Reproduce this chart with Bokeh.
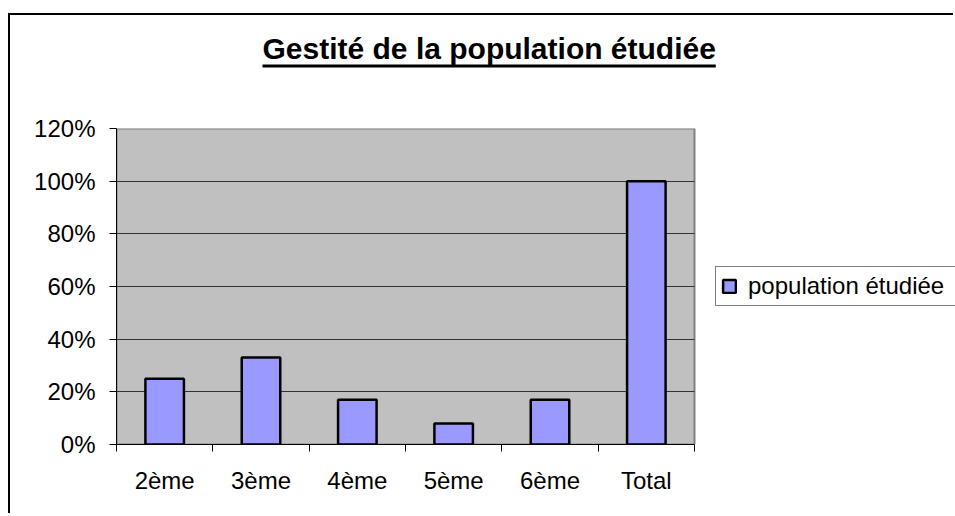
from bokeh.plotting import figure
from bokeh.models import (ColumnDataSource, FixedTicker, NumeralTickFormatter, Range1d,
                          Legend, LegendItem, Title)
from bokeh.embed import file_html
from bokeh.resources import INLINE

# ---- data ----
categories = ["2ème", "3ème", "4ème", "5ème", "6ème", "Total"]
values = [0.25, 0.33, 0.17, 0.08, 0.17, 1.00]
series_name = "population étudiée"
title_text = "Gestité de la population étudiée"
y_ticks = [0, 0.2, 0.4, 0.6, 0.8, 1.0, 1.2]

n = len(categories)
positions = [i + 0.5 for i in range(n)]
source = ColumnDataSource(dict(x=positions, top=values, cat=categories))

FONT = "Liberation Sans"
W, H = 945, 500
LEFT, TOP, BOTTOM = 106, 113, 71
PLOT_W = 578                      # width of the grey plotting area
x_end = n * (W - LEFT) / PLOT_W   # frame runs to the right edge (room for legend)

p = figure(width=W, height=H, output_backend="svg", toolbar_location=None,
           x_range=Range1d(0, x_end), y_range=Range1d(y_ticks[0], y_ticks[-1]),
           min_border_left=LEFT, min_border_right=0, min_border_top=TOP,
           min_border_bottom=BOTTOM)
p.styles = {"margin-left": "8px", "margin-top": "13px",
            "border-left": "2px solid black", "border-top": "2px solid black"}

# title text (farthest from frame)
p.title.text = title_text
p.title.text_font = FONT
p.title.text_font_size = "30px"
p.title.text_font_style = "bold"
p.title.text_color = "black"
p.title.align = "left"
p.title.offset = 146
p.title.standoff = 0

# spacer between frame and underline (nearest to frame)
spacer = Title(text=" ", text_font=FONT, text_font_size="1px", standoff=56,
               background_fill_color=None, border_line_color=None)
p.add_layout(spacer, "above")
# underline (thin black box just below the title text)
ul = Title(text=" ", text_font=FONT, text_font_size="1px", align="left", offset=146,
           standoff=0, padding=(0, 453, 1, 1), background_fill_color="black",
           border_line_color=None, vertical_align="top")
p.add_layout(ul, "above")

p.background_fill_color = "white"
p.border_fill_color = "white"
p.outline_line_color = None

# grey plotting area
p.quad(left=[0], right=[n], bottom=[y_ticks[0]], top=[y_ticks[-1]],
       fill_color="#C0C0C0", line_color="#808080", line_width=2, level="image")

r = p.vbar(x="x", top="top", width=0.4, source=source,
           fill_color="#9999FF", line_color="black", line_width=2.5)

xt = FixedTicker(ticks=positions, minor_ticks=list(range(n + 1)))
p.xaxis.ticker = xt
p.xaxis.bounds = (0, n)
p.xaxis.major_label_overrides = {pos: c for pos, c in zip(positions, categories)}
p.xaxis.major_tick_out = 0
p.xaxis.major_tick_in = 0
p.xaxis.minor_tick_out = 7
p.xaxis.minor_tick_in = 0
p.xaxis.minor_tick_line_color = "black"
p.xaxis.axis_line_color = "black"
p.xaxis.major_label_standoff = 15
p.xaxis.major_label_text_font = FONT
p.xaxis.major_label_text_font_size = "24px"
p.xaxis.major_label_text_color = "black"

p.yaxis.ticker = FixedTicker(ticks=y_ticks, minor_ticks=[])
p.yaxis.formatter = NumeralTickFormatter(format="0%")
p.yaxis.major_tick_out = 7
p.yaxis.major_tick_in = 0
p.yaxis.minor_tick_out = 0
p.yaxis.minor_tick_in = 0
p.yaxis.major_tick_line_color = "black"
p.yaxis.axis_line_color = "black"
p.yaxis.major_label_standoff = 14
p.yaxis.major_label_text_font = FONT
p.yaxis.major_label_text_font_size = "24px"
p.yaxis.major_label_text_color = "black"

p.xgrid.grid_line_color = None
grid_ticks = y_ticks[1:-1]
try:
    p.ygrid.ticker = FixedTicker(ticks=grid_ticks)
    p.ygrid.cross_bounds = (0, n)
    p.ygrid.grid_line_color = "#333333"
    p.ygrid.grid_line_width = 1
except Exception:
    p.ygrid.grid_line_color = None
    p.segment(x0=[0] * len(grid_ticks), x1=[n] * len(grid_ticks), y0=grid_ticks,
              y1=grid_ticks, line_color="#333333", line_width=1, level="underlay")

legend = Legend(items=[LegendItem(label=series_name, renderers=[r])],
                location=(599, 138), border_line_color="black", border_line_width=1,
                background_fill_color="white", background_fill_alpha=1,
                padding=5, margin=0, spacing=0, glyph_width=16, glyph_height=16,
                label_standoff=11, label_height=22, label_width=210,
                label_text_font=FONT, label_text_font_size="24px",
                label_text_color="black")
p.add_layout(legend)

open("out.html", "w").write(file_html(p, INLINE))
